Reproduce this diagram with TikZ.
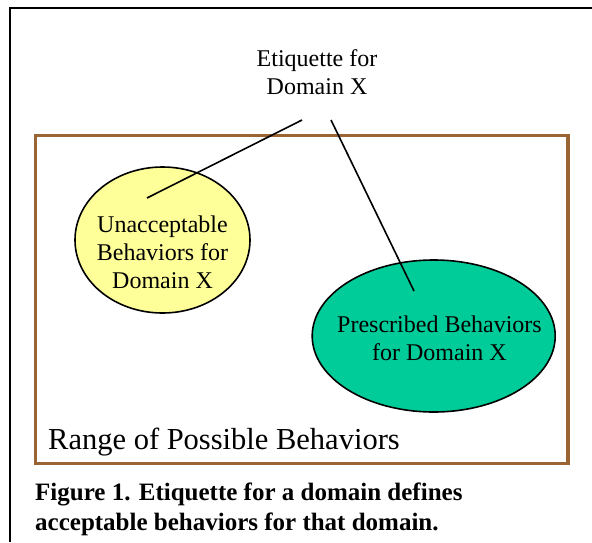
\documentclass[tikz,border=0pt]{standalone}
\usepackage{fontspec}
\setmainfont{Liberation Serif}
\usetikzlibrary{shapes.geometric}
\definecolor{rangebrown}{HTML}{996633}
\definecolor{unacc}{HTML}{FFFF99}
\definecolor{prescr}{HTML}{00CC99}
\begin{document}
\begin{tikzpicture}[x=1pt,y=-1pt,
  frameline/.style={line width=2.2pt,black},
  rangebox/.style={draw=rangebrown,line width=3.5pt},
  blob/.style={ellipse,draw=black,line width=1.6pt,inner sep=0pt},
  lbl/.style={align=center,inner sep=0pt,font=\fontsize{24}{28}\selectfont},
  link/.style={line width=1.6pt,black},
  caption/.style={align=left,inner sep=0pt,anchor=base west,
    font=\bfseries\fontsize{25}{30}\selectfont}]
  \useasboundingbox (0,0) rectangle (592,542);
  % open frame: top and left edges only
  \draw[frameline] (592,8) -- (10,8) -- (10,542);
  % range of behaviours
  \draw[rangebox] (35.5,135.5) rectangle (568,463.5);
  \node[inner sep=0pt,anchor=base west,font=\fontsize{30.5}{34}\selectfont] (range) at (48,449) {Range of Possible Behaviors};
  % the two behaviour sets
  \node[blob,fill=unacc,minimum width=175pt,minimum height=146pt] (unacc) at (162.5,240) {};
  \node[lbl] (unacctext) at (162.5,252) {Unacceptable\\Behaviors for\\Domain X};
  \node[blob,fill=prescr,minimum width=243pt,minimum height=152pt] (prescr) at (433.7,336) {};
  \node[lbl] (prescrtext) at (439.5,338) {Prescribed Behaviors\\for Domain X};
  % etiquette label and its links
  \node[lbl] (etq) at (317,72) {Etiquette for\\Domain X};
  \coordinate (etqL) at (302,120);
  \coordinate (etqR) at (331,120);
  \coordinate (unaccEnd) at (147,198);
  \coordinate (prescrEnd) at (414,291);
  \draw[link] (etqL) -- (unaccEnd);
  \draw[link] (etqR) -- (prescrEnd);
  % caption
  \node[caption] (cap) at (35,530) {Figure 1. Etiquette for a domain defines\\acceptable behaviors for that domain.};
\end{tikzpicture}
\end{document}
